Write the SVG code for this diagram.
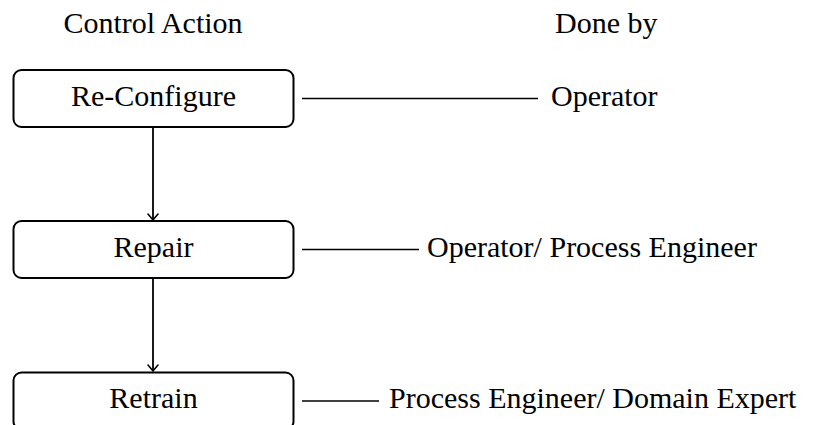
<svg xmlns="http://www.w3.org/2000/svg" width="826" height="425" viewBox="0 0 826 425" font-family="'Liberation Serif', 'DejaVu Serif', serif">
  <style>
    text { font-family: 'Liberation Serif', 'DejaVu Serif', serif; font-size: 30px; fill: #000; }
    .c { text-anchor: middle; }
    .box { fill: #fff; stroke: #000; stroke-width: 2; }
    .link { stroke: #000; stroke-width: 1.3; fill: none; }
    .flow { stroke: #000; stroke-width: 1.8; fill: none; }
  </style>
  <defs>
    <marker id="tip" viewBox="-7 -6 8 12" markerWidth="8" markerHeight="12" refX="0" refY="0" orient="auto" markerUnits="userSpaceOnUse">
      <path d="M -6 -5 Q -1.5 -1.2 0 0 Q -1.5 1.2 -6 5" fill="none" stroke="#000" stroke-width="1.6" stroke-linecap="round"/>
    </marker>
  </defs>

  <!-- column headings -->
  <text class="c" x="153" y="33">Control Action</text>
  <text x="555" y="33">Done by</text>

  <!-- connectors -->
  <g id="connectors">
    <line class="flow" x1="153" y1="127" x2="153" y2="220" marker-end="url(#tip)"/>
    <line class="flow" x1="153" y1="278" x2="153" y2="371" marker-end="url(#tip)"/>
    <line class="link" x1="302" y1="98.5" x2="538" y2="98.5"/>
    <line class="link" x1="302" y1="249.5" x2="419" y2="249.5"/>
    <line class="link" x1="302" y1="401" x2="379" y2="401"/>
  </g>

  <!-- control actions -->
  <g id="reconfigure">
    <rect class="box" x="13.5" y="70" width="280" height="57" rx="8"/>
    <text class="c" x="153.5" y="106">Re-Configure</text>
  </g>
  <g id="repair">
    <rect class="box" x="13.5" y="221" width="280" height="57" rx="8"/>
    <text class="c" x="153.5" y="257">Repair</text>
  </g>
  <g id="retrain">
    <rect class="box" x="13.5" y="372.5" width="280" height="57" rx="8"/>
    <text class="c" x="153.5" y="408">Retrain</text>
  </g>

  <!-- responsible roles -->
  <g id="role-operator">
    <text x="551" y="106">Operator</text>
  </g>
  <g id="role-operator-engineer">
    <text x="427" y="257">Operator/ Process Engineer</text>
  </g>
  <g id="role-engineer-expert">
    <text x="389" y="408">Process Engineer/ Domain Expert</text>
  </g>
</svg>
